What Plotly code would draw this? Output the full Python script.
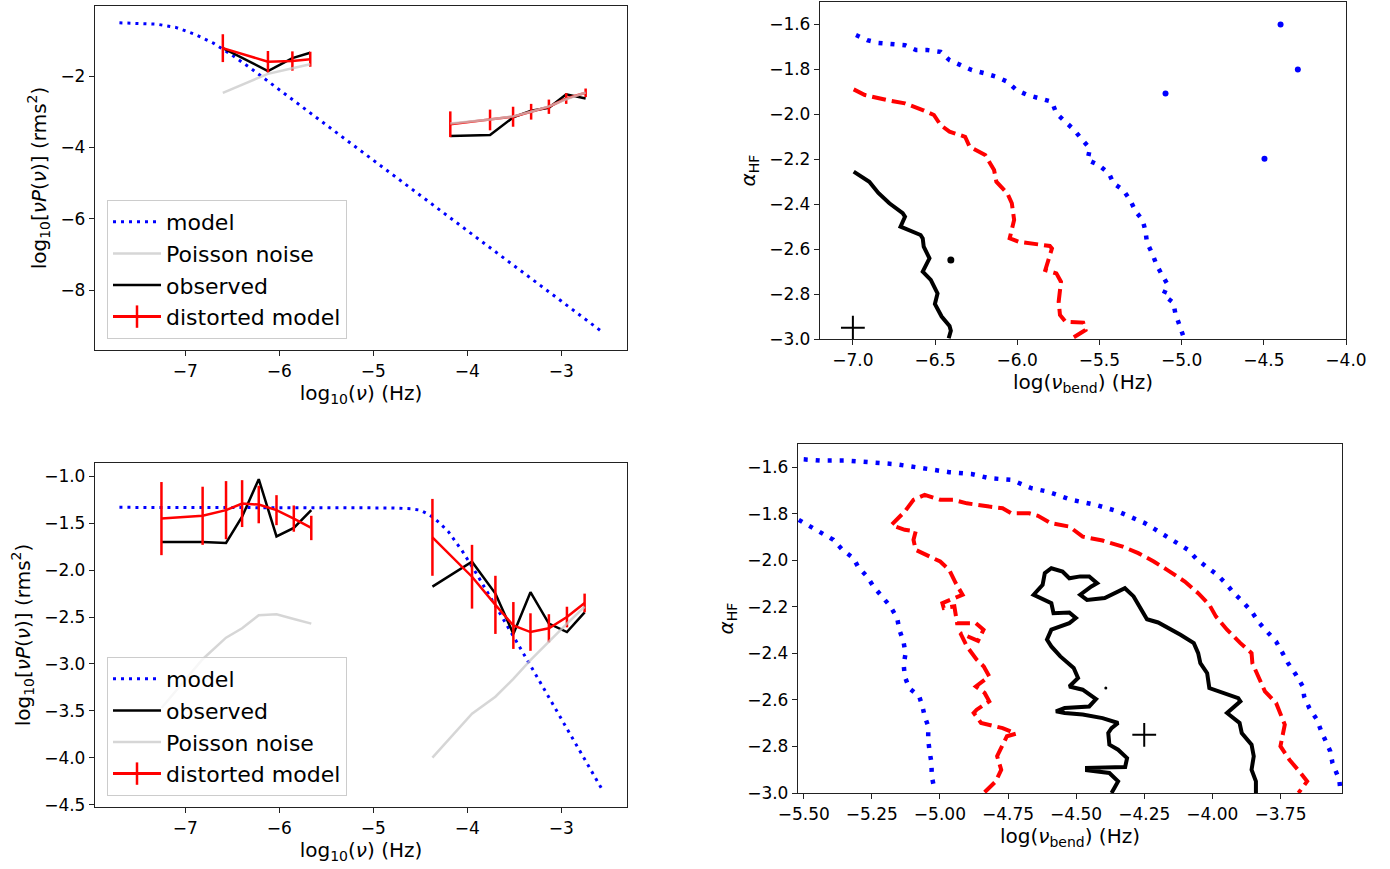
import plotly.graph_objects as go

# ---------------- Top-left: PSD (first source) ----------------
tl_model_x = [-7.7, -7.5, -7.3, -7.1, -6.9, -6.7, -6.5, -6.3, -6.0, -5.5, -5.0, -4.5, -4.0, -3.5, -3.0, -2.55]
tl_model_y = [-0.51, -0.52, -0.55, -0.64, -0.83, -1.08, -1.42, -1.79, -2.38, -3.36, -4.36, -5.33, -6.32, -7.31, -8.30, -9.19]

tl_low_x = [-6.60, -6.12, -5.86, -5.67]
tl_low_obs = [-1.22, -1.86, -1.50, -1.35]
tl_low_dist = [-1.22, -1.60, -1.58, -1.53]
tl_low_err = [0.39, 0.30, 0.27, 0.21]
tl_low_noise = [-2.47, -1.94, -1.78, -1.67]

tl_high_x = [-4.18, -3.757, -3.512, -3.32, -3.131, -2.947, -2.74]
tl_high_obs = [-3.68, -3.65, -3.16, -2.97, -2.89, -2.51, -2.63]
tl_high_dist = [-3.35, -3.23, -3.14, -3.00, -2.86, -2.63, -2.47]
tl_high_err = [0.36, 0.29, 0.28, 0.22, 0.20, 0.15, 0.12]
tl_high_noise = [-3.33, -3.22, -3.13, -3.00, -2.85, -2.65, -2.46]

# ---------------- Bottom-left: PSD (second source) ----------------
bl_model_x = [-7.7, -6.5, -5.5, -5.0, -4.8, -4.6, -4.5, -4.4, -4.3, -4.2, -4.05, -3.9, -3.75, -3.5, -3.25, -3.0, -2.75, -2.55]
bl_model_y = [-1.33, -1.33, -1.33, -1.333, -1.336, -1.345, -1.36, -1.41, -1.49, -1.59, -1.80, -2.04, -2.29, -2.72, -3.15, -3.58, -4.01, -4.365]

bl_low_x = [-7.253, -6.815, -6.566, -6.395, -6.218, -6.029, -5.845, -5.659]
bl_low_obs = [-1.70, -1.70, -1.71, -1.43, -1.03, -1.64, -1.55, -1.36]
bl_low_dist = [-1.45, -1.42, -1.36, -1.29, -1.30, -1.36, -1.45, -1.55]
bl_low_err = [0.39, 0.31, 0.31, 0.25, 0.20, 0.16, 0.14, 0.13]
bl_low_noise = [-3.47, -2.95, -2.72, -2.62, -2.48, -2.47, -2.52, -2.57]

bl_high_x = [-4.37, -3.949, -3.70, -3.509, -3.327, -3.131, -2.939, -2.751]
bl_high_obs = [-2.175, -1.91, -2.25, -2.68, -2.235, -2.57, -2.66, -2.45]
bl_high_dist = [-1.65, -2.07, -2.37, -2.59, -2.66, -2.62, -2.50, -2.35]
bl_high_err = [0.41, 0.34, 0.31, 0.25, 0.20, 0.15, 0.11, 0.10]
bl_high_noise = [-4.00, -3.53, -3.35, -3.16, -2.96, -2.76, -2.57, -2.39]

# ---------------- Top-right: confidence contours ----------------
tr_black_x = [-6.995, -6.90, -6.845, -6.778, -6.697, -6.683, -6.71, -6.656, -6.588, -6.575, -6.569, -6.534, -6.575, -6.526, -6.485, -6.501, -6.46, -6.412, -6.404, -6.417]
tr_black_y = [-2.255, -2.30, -2.35, -2.396, -2.44, -2.456, -2.50, -2.515, -2.537, -2.552, -2.589, -2.641, -2.70, -2.737, -2.797, -2.844, -2.90, -2.942, -2.963, -2.997]
tr_black_dot_x = [-6.404]
tr_black_dot_y = [-2.648]

tr_red_x = [-6.995, -6.927, -6.79, -6.683, -6.575, -6.507, -6.466, -6.412, -6.317, -6.29, -6.195, -6.141, -6.127, -6.06, -6.033, -6.019, -6.046, -5.992, -5.802, -5.789, -5.829, -5.762, -5.734, -5.748, -5.74, -5.707, -5.599, -5.585, -5.667]
tr_red_y = [-1.889, -1.914, -1.937, -1.951, -1.981, -2.003, -2.048, -2.077, -2.10, -2.144, -2.181, -2.248, -2.30, -2.352, -2.396, -2.47, -2.552, -2.567, -2.586, -2.597, -2.693, -2.708, -2.745, -2.834, -2.893, -2.923, -2.927, -2.96, -2.997]

tr_blue_x = [-6.981, -6.913, -6.845, -6.764, -6.683, -6.615, -6.547, -6.466, -6.412, -6.344, -6.276, -6.195, -6.127, -6.06, -6.005, -5.938, -5.87, -5.789, -5.762, -5.707, -5.653, -5.612, -5.558, -5.572, -5.504, -5.442, -5.415, -5.355, -5.314, -5.279, -5.238, -5.22, -5.211, -5.179, -5.152, -5.119, -5.084, -5.111, -5.051, -5.038, -5.016, -4.989]
tr_blue_y = [-1.647, -1.67, -1.682, -1.685, -1.692, -1.714, -1.714, -1.722, -1.759, -1.781, -1.803, -1.818, -1.833, -1.855, -1.892, -1.914, -1.929, -1.944, -1.996, -2.033, -2.07, -2.107, -2.152, -2.203, -2.226, -2.263, -2.307, -2.337, -2.381, -2.433, -2.47, -2.518, -2.571, -2.619, -2.671, -2.715, -2.759, -2.804, -2.838, -2.886, -2.937, -2.989]
tr_blue_dots_x = [-5.098, -4.496, -4.398, -4.293]
tr_blue_dots_y = [-1.907, -2.198, -1.60, -1.80]
tr_best_x = [-7.0]
tr_best_y = [-2.95]

# ---------------- Bottom-right: confidence contours ----------------
br_blue_top_x = [-5.5, -5.44, -5.342, -5.252, -5.162, -5.064, -4.966, -4.884, -4.819, -4.738, -4.705, -4.664, -4.607, -4.517, -4.427, -4.346, -4.297, -4.248, -4.207, -4.169, -4.125, -4.089, -4.055, -4.019, -3.982, -3.949, -3.921, -3.889, -3.856, -3.827, -3.794, -3.766, -3.742, -3.722, -3.693, -3.668, -3.663, -3.644, -3.616, -3.60, -3.567, -3.559, -3.534, -3.53]
br_blue_top_y = [-1.566, -1.571, -1.571, -1.579, -1.587, -1.604, -1.621, -1.629, -1.647, -1.654, -1.669, -1.69, -1.704, -1.74, -1.762, -1.79, -1.815, -1.84, -1.869, -1.898, -1.926, -1.955, -1.998, -2.027, -2.062, -2.101, -2.141, -2.177, -2.22, -2.27, -2.313, -2.349, -2.399, -2.442, -2.492, -2.542, -2.585, -2.635, -2.685, -2.735, -2.821, -2.871, -2.943, -2.988]
br_blue_left_x = [-5.518, -5.472, -5.391, -5.358, -5.317, -5.301, -5.268, -5.244, -5.211, -5.182, -5.157, -5.149, -5.134, -5.126, -5.133, -5.129, -5.113, -5.076, -5.064, -5.056, -5.043, -5.043, -5.038, -5.031, -5.03, -5.02]
br_blue_left_y = [-1.826, -1.858, -1.912, -1.955, -1.991, -2.027, -2.069, -2.112, -2.155, -2.198, -2.248, -2.298, -2.349, -2.399, -2.449, -2.499, -2.549, -2.585, -2.628, -2.671, -2.713, -2.771, -2.821, -2.871, -2.928, -2.985]

br_red_x = [-4.836, -4.795, -4.775, -4.79, -4.754, -4.721, -4.77, -4.849, -4.876, -4.865, -4.819, -4.836, -4.868, -4.819, -4.839, -4.865, -4.901, -4.925, -4.86, -4.84, -4.868, -4.937, -4.947, -4.986, -4.991, -4.917, -4.942, -4.966, -4.999, -5.04, -5.089, -5.097, -5.089, -5.129, -5.178, -5.129, -5.097, -5.056, -4.999, -4.95, -4.901, -4.819, -4.77, -4.738, -4.672, -4.64, -4.594, -4.525, -4.476, -4.403, -4.329, -4.272, -4.215, -4.166, -4.101, -4.052, -4.011, -3.987, -3.946, -3.897, -3.856, -3.853, -3.832, -3.807, -3.766, -3.75, -3.734, -3.75, -3.717, -3.676, -3.652, -3.684]
br_red_y = [-2.997, -2.95, -2.90, -2.842, -2.756, -2.745, -2.721, -2.699, -2.656, -2.642, -2.606, -2.57, -2.542, -2.499, -2.456, -2.427, -2.37, -2.313, -2.346, -2.298, -2.27, -2.27, -2.198, -2.205, -2.184, -2.148, -2.098, -2.041, -2.005, -1.984, -1.955, -1.912, -1.876, -1.869, -1.848, -1.79, -1.74, -1.719, -1.74, -1.74, -1.755, -1.769, -1.776, -1.798, -1.798, -1.809, -1.84, -1.855, -1.898, -1.915, -1.941, -1.969, -2.005, -2.041, -2.091, -2.141, -2.191, -2.241, -2.298, -2.356, -2.399, -2.442, -2.499, -2.563, -2.613, -2.656, -2.706, -2.799, -2.857, -2.914, -2.95, -3.0]

br_black_x = [-4.37, -4.346, -4.378, -4.46, -4.46, -4.32, -4.313, -4.346, -4.378, -4.382, -4.37, -4.346, -4.403, -4.476, -4.542, -4.574, -4.542, -4.452, -4.427, -4.452, -4.476, -4.525, -4.493, -4.509, -4.558, -4.591, -4.607, -4.591, -4.525, -4.501, -4.525, -4.583, -4.591, -4.656, -4.623, -4.615, -4.591, -4.55, -4.525, -4.485, -4.452, -4.423, -4.444, -4.485, -4.46, -4.395, -4.354, -4.321, -4.289, -4.248, -4.24, -4.199, -4.15, -4.117, -4.068, -4.052, -4.044, -4.019, -4.011, -3.962, -3.905, -3.897, -3.946, -3.90, -3.892, -3.856, -3.848, -3.856, -3.84, -3.84]
br_black_y = [-3.0, -2.95, -2.914, -2.902, -2.892, -2.888, -2.85, -2.814, -2.792, -2.742, -2.721, -2.699, -2.678, -2.663, -2.656, -2.649, -2.635, -2.628, -2.596, -2.578, -2.556, -2.542, -2.506, -2.463, -2.413, -2.37, -2.341, -2.298, -2.27, -2.248, -2.224, -2.227, -2.184, -2.148, -2.105, -2.055, -2.034, -2.048, -2.077, -2.069, -2.069, -2.098, -2.112, -2.148, -2.17, -2.162, -2.141, -2.12, -2.155, -2.234, -2.253, -2.267, -2.298, -2.32, -2.356, -2.399, -2.442, -2.485, -2.549, -2.57, -2.592, -2.606, -2.656, -2.699, -2.742, -2.792, -2.842, -2.90, -2.95, -3.0]
br_black_dot_x = [-4.391]
br_black_dot_y = [-2.549]
br_best_x = [-4.25]
br_best_y = [-2.75]

# ---------------- styles ----------------
FONT = "DejaVu Sans"
BLUE = "#0000ff"
RED = "#ff0000"
GRAY = "rgba(200,200,200,0.75)"
model_dash = "3px,5px"

fig = go.Figure()


def add_psd(xa, ya, legend, mx, my, groups, order):
    fig.add_trace(go.Scatter(x=mx, y=my, mode="lines", xaxis=xa, yaxis=ya, legend=legend,
                             line=dict(color=BLUE, width=3, dash=model_dash), name="model",
                             legendrank=order["model"]))
    first = True
    for gx, obs, dist, err, noise in groups:
        fig.add_trace(go.Scatter(x=gx, y=obs, mode="lines", xaxis=xa, yaxis=ya, legend=legend,
                                 line=dict(color="black", width=2.5), name="observed",
                                 showlegend=first, legendrank=order["observed"]))
        fig.add_trace(go.Scatter(x=gx, y=dist, mode="lines", xaxis=xa, yaxis=ya, legend=legend,
                                 line=dict(color=RED, width=2.5), name="distorted model",
                                 error_y=dict(type="data", array=err, color=RED, thickness=2.5, width=0),
                                 showlegend=False))
        fig.add_trace(go.Scatter(x=gx, y=noise, mode="lines", xaxis=xa, yaxis=ya, legend=legend,
                                 line=dict(color=GRAY, width=2.5), name="Poisson noise",
                                 showlegend=first, legendrank=order["noise"]))
        first = False
    fig.add_trace(go.Scatter(x=[None], y=[None], mode="lines+markers", xaxis=xa, yaxis=ya, legend=legend,
                             line=dict(color=RED, width=3),
                             marker=dict(symbol="line-ns-open", size=20, color=RED,
                                         line=dict(color=RED, width=2.5)),
                             name="distorted model", legendrank=order["dist"]))


add_psd("x", "y", "legend", tl_model_x, tl_model_y,
        [(tl_low_x, tl_low_obs, tl_low_dist, tl_low_err, tl_low_noise),
         (tl_high_x, tl_high_obs, tl_high_dist, tl_high_err, tl_high_noise)],
        {"model": 1, "noise": 2, "observed": 3, "dist": 4})
add_psd("x3", "y3", "legend2", bl_model_x, bl_model_y,
        [(bl_low_x, bl_low_obs, bl_low_dist, bl_low_err, bl_low_noise),
         (bl_high_x, bl_high_obs, bl_high_dist, bl_high_err, bl_high_noise)],
        {"model": 1, "observed": 2, "noise": 3, "dist": 4})

contour_dot = "4px,8px"
contour_dash = "14px,6px"


def cline(x, y, xa, ya, color, dash, width):
    fig.add_trace(go.Scatter(x=x, y=y, mode="lines", xaxis=xa, yaxis=ya, showlegend=False,
                             line=dict(color=color, width=width, dash=dash)))


def cdots(x, y, xa, ya, color, size):
    fig.add_trace(go.Scatter(x=x, y=y, mode="markers", xaxis=xa, yaxis=ya, showlegend=False,
                             marker=dict(color=color, size=size)))


def cross(x, y, xa, ya):
    fig.add_trace(go.Scatter(x=x, y=y, mode="markers", xaxis=xa, yaxis=ya, showlegend=False,
                             marker=dict(symbol="cross-thin-open", size=17, color="black",
                                         line=dict(color="black", width=2))))


cline(tr_blue_x, tr_blue_y, "x2", "y2", BLUE, contour_dot, 4.5)
cdots(tr_blue_dots_x, tr_blue_dots_y, "x2", "y2", BLUE, 6)
cline(tr_red_x, tr_red_y, "x2", "y2", RED, contour_dash, 4)
cline(tr_black_x, tr_black_y, "x2", "y2", "black", "solid", 4)
cdots(tr_black_dot_x, tr_black_dot_y, "x2", "y2", "black", 7)
cross(tr_best_x, tr_best_y, "x2", "y2")

cline(br_blue_top_x, br_blue_top_y, "x4", "y4", BLUE, contour_dot, 4.5)
cline(br_blue_left_x, br_blue_left_y, "x4", "y4", BLUE, contour_dot, 4.5)
cline(br_red_x, br_red_y, "x4", "y4", RED, contour_dash, 4)
cline(br_black_x, br_black_y, "x4", "y4", "black", "solid", 4)
cdots(br_black_dot_x, br_black_dot_y, "x4", "y4", "black", 3)
cross(br_best_x, br_best_y, "x4", "y4")

axis_common = dict(showline=True, linecolor="#222", linewidth=1.3, mirror=True, ticks="outside",
                   ticklen=5, tickwidth=1.2, tickcolor="#222", showgrid=False, zeroline=False,
                   automargin=False,
                   tickfont=dict(family=FONT, size=17, color="black"),
                   title_font=dict(family=FONT, size=20, color="black"))

W, H = 1390, 869


def dom_x(a, b):
    return [a / W, b / W]


def dom_y(top, bottom):
    return [1 - bottom / H, 1 - top / H]


xt_psd = "log<sub>10</sub>(<i>ν</i>) (Hz)"
yt_psd = "log<sub>10</sub>[<i>νP</i>(<i>ν</i>)] (rms<sup>2</sup>)"
xt_c = "log(<i>ν</i><sub>bend</sub>) (Hz)"
yt_c = "<i>α</i><sub>HF</sub>"

legend_common = dict(xanchor="left", yanchor="top",
                     bgcolor="rgba(255,255,255,0.8)", bordercolor="#cccccc", borderwidth=1,
                     font=dict(family=FONT, size=22, color="black"), itemwidth=48,
                     tracegroupgap=0)

fig.update_layout(
    width=W, height=H, margin=dict(l=0, r=0, t=0, b=0),
    paper_bgcolor="white", plot_bgcolor="white",
    font=dict(family=FONT, color="black"),
    xaxis=dict(domain=dom_x(95, 627), range=[-7.96, -2.30], dtick=1, tick0=0,
               title=dict(text=xt_psd, standoff=4), anchor="y", **axis_common),
    yaxis=dict(domain=dom_y(6, 350), range=[-9.67, -0.04], dtick=2, tick0=0,
               title=dict(text=yt_psd, standoff=8), anchor="x", **axis_common),
    xaxis2=dict(domain=dom_x(820, 1346), range=[-7.2, -4.0], dtick=0.5, tick0=0, tickformat=".1f",
                title=dict(text=xt_c, standoff=4), anchor="y2", **axis_common),
    yaxis2=dict(domain=dom_y(2, 339), range=[-3.0, -1.5], dtick=0.2, tick0=-3, tickformat=".1f",
                title=dict(text=yt_c, standoff=8), anchor="x2", **axis_common),
    xaxis3=dict(domain=dom_x(95, 627), range=[-7.96, -2.30], dtick=1, tick0=0,
                title=dict(text=xt_psd, standoff=4), anchor="y3", **axis_common),
    yaxis3=dict(domain=dom_y(463, 807), range=[-4.526, -0.857], dtick=0.5, tick0=0, tickformat=".1f",
                title=dict(text=yt_psd, standoff=8), anchor="x3", **axis_common),
    xaxis4=dict(domain=dom_x(798, 1342), range=[-5.521, -3.524], dtick=0.25, tick0=-5.5, tickformat=".2f",
                title=dict(text=xt_c, standoff=4), anchor="y4", **axis_common),
    yaxis4=dict(domain=dom_y(444, 793), range=[-3.0, -1.5], dtick=0.2, tick0=-3, tickformat=".1f",
                title=dict(text=yt_c, standoff=8), anchor="x4", **axis_common),
    legend=dict(x=107 / W, y=1 - 200 / H, **legend_common),
    legend2=dict(x=107 / W, y=1 - 657 / H, **legend_common),
)

fig.write_html("out.html")
